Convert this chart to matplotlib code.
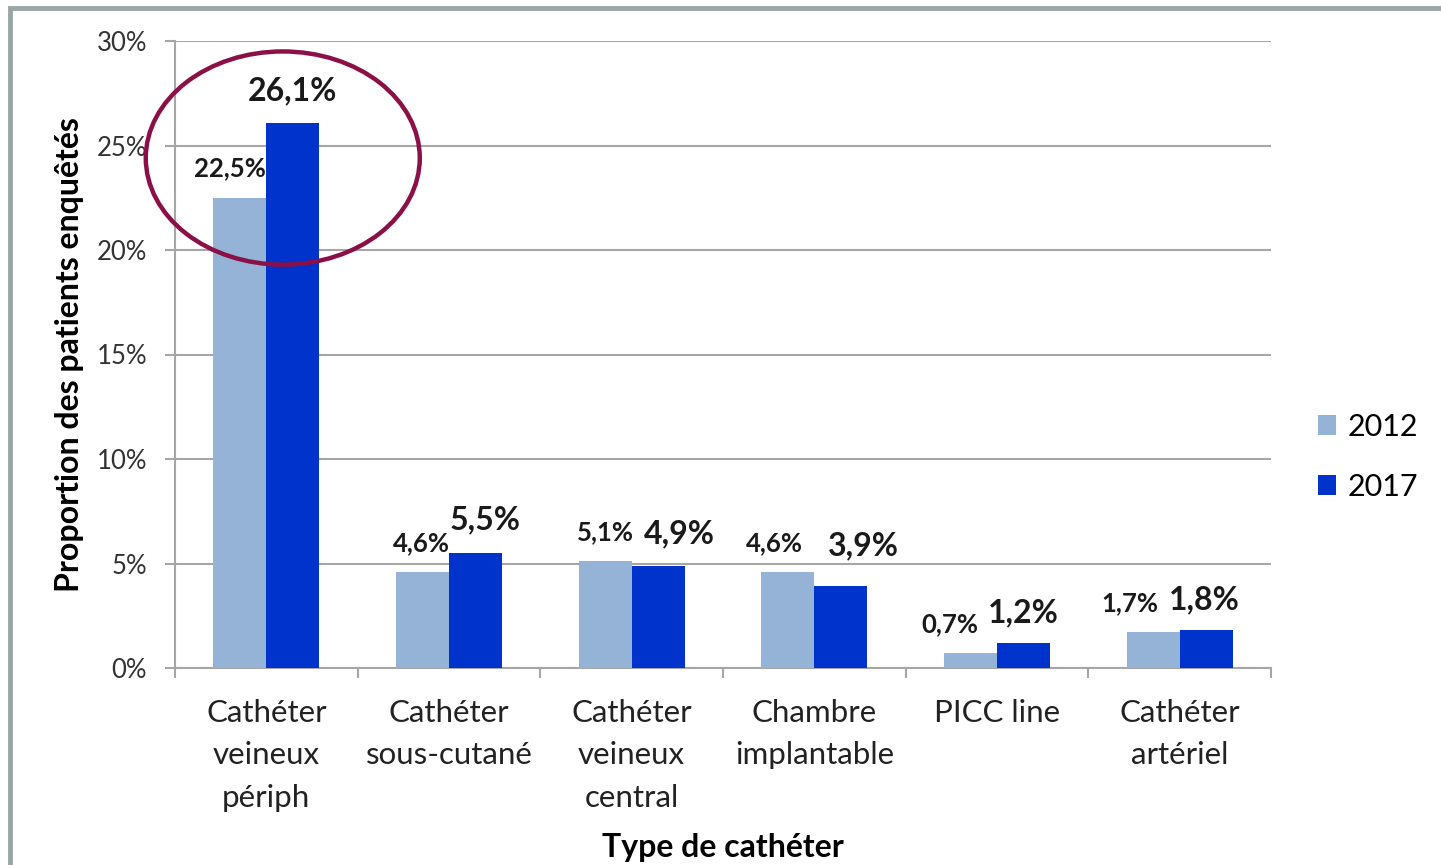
import numpy as np
import matplotlib.pyplot as plt
from matplotlib.patches import Ellipse, Rectangle

categories = ["Cathéter\nveineux\npériph", "Cathéter\nsous-cutané", "Cathéter\nveineux\ncentral",
              "Chambre\nimplantable", "PICC line", "Cathéter\nartériel"]
values_2012 = [22.5, 4.6, 5.1, 4.6, 0.7, 1.7]
values_2017 = [26.1, 5.5, 4.9, 3.9, 1.2, 1.8]
yticks = [0, 5, 10, 15, 20, 25, 30]

# label nudges (points), like Excel shifting overlapping labels
dx_2012 = [-7, -1, 0, -10, -15, -17]
dx_2017 = [0, 7, 15, 16, 0, -1]
dy_2017 = [23, 24, 23, 29, 22, 22]

plt.rcParams['font.family'] = ['Lato', 'DejaVu Sans']

fig = plt.figure(figsize=(14.41, 8.65), dpi=100)
ax = fig.add_axes([175 / 1441, 1 - 668 / 865, (1271 - 175) / 1441, (668 - 41) / 865])

x = np.arange(len(categories))
w = 0.29
b1 = ax.bar(x - w / 2, values_2012, w, color='#95B3D7', label='2012', zorder=3)
b2 = ax.bar(x + w / 2, values_2017, w, color='#0033CC', label='2017', zorder=3)

for xi, v, dx in zip(x, values_2012, dx_2012):
    ax.annotate(f"{v:.1f}%".replace('.', ','), (xi - w / 2, v), xytext=(dx, 21), textcoords='offset points',
                ha='center', va='center', fontsize=18.5, fontweight='bold', color='#1a1a1a', zorder=6)
for xi, v, dx, dy in zip(x, values_2017, dx_2017, dy_2017):
    ax.annotate(f"{v:.1f}%".replace('.', ','), (xi + w / 2, v), xytext=(dx, dy), textcoords='offset points',
                ha='center', va='center', fontsize=23, fontweight='bold', color='#1a1a1a', zorder=6)

ax.set_xlim(-0.5, len(categories) - 0.5)
ax.set_ylim(0, 30)
ax.set_yticks(yticks)
ax.set_yticklabels([f"{t}%" for t in yticks], fontsize=18.5, color='#333333')
ax.yaxis.grid(True, color='#A6A6A6', linewidth=1.5, zorder=0)

ax.set_xticks(np.arange(-0.5, len(categories)), labels=[])
ax.set_xticks(x, labels=categories, minor=True)
ax.tick_params(axis='x', which='major', length=7, color='#A6A6A6', width=1.5)
ax.tick_params(axis='x', which='minor', length=0, pad=22, labelsize=22.5, labelcolor='#222222')
ax.tick_params(axis='y', length=7, color='#A6A6A6', width=1.5, pad=13)
for lbl in ax.get_xticklabels(minor=True):
    lbl.set_linespacing(1.63)
    lbl.set_verticalalignment('top')

for s in ['top', 'right']:
    ax.spines[s].set_visible(False)
for s in ['left', 'bottom']:
    ax.spines[s].set_color('#A6A6A6')
    ax.spines[s].set_linewidth(1.5)

ax.set_ylabel("Proportion des patients enquêtés", fontsize=23, fontweight='bold')
ax.yaxis.label.set_rotation_mode('anchor')
ax.yaxis.label.set_va('center')
ax.yaxis.set_label_coords((70 - 175) / 1096, 0.5)
ax.set_xlabel("Type de cathéter", fontsize=23, fontweight='bold')
ax.xaxis.label.set_va('center')
ax.xaxis.set_label_coords(0.5, (668 - 847) / 627)

ell = Ellipse((0.09, 24.4), 1.5, 10.2, fill=False, edgecolor='#8B1048', linewidth=3.2, clip_on=False, zorder=5)
ax.add_patch(ell)

fig.legend(handles=[b1, b2], loc='center left', bbox_to_anchor=(1290 / 1441, 1 - 457 / 865),
           frameon=False, fontsize=22, handlelength=0.62, handleheight=0.62, handletextpad=0.35,
           labelspacing=1.05)

fig.patches.append(Rectangle((10 / 1441, -0.1), 1.2, 1 - 8 / 865 + 0.1, transform=fig.transFigure,
                             fill=False, edgecolor='#9AA5A5', linewidth=3.5))

fig.savefig("out.png", dpi=100)
